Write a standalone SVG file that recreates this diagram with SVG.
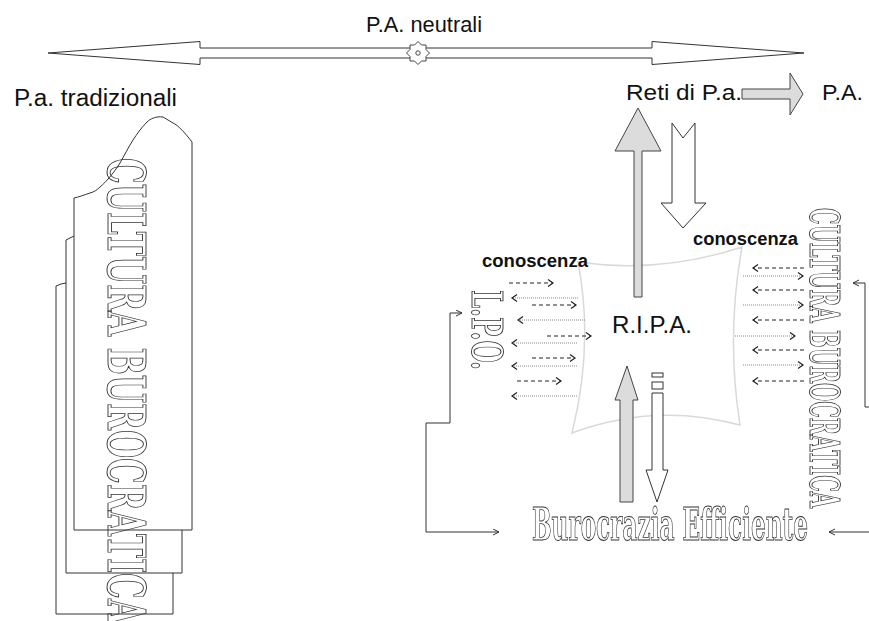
<svg xmlns="http://www.w3.org/2000/svg" width="869" height="621" viewBox="0 0 869 621">
  <style>
    .lbl { font-family: "Liberation Sans", Arial, sans-serif; fill: #111; }
    .bold { font-family: "Liberation Sans", Arial, sans-serif; font-weight: bold; fill: #111; }
    .ol { font-family: "DejaVu Serif Condensed", "DejaVu Serif", "Liberation Serif", serif; font-weight: bold; font-stretch: condensed; fill: none; stroke: #333; stroke-width: 0.9; }
    .frame { fill: none; stroke: #333; stroke-width: 1; }
    .conn { fill: none; stroke: #333; stroke-width: 1; }
    .dash { stroke: #222; stroke-width: 1; stroke-dasharray: 4 3; }
    .dot { stroke: #888; stroke-width: 1; stroke-dasharray: 1 1; }
    .grayarrow { fill: #dcdcdc; stroke: #444; stroke-width: 1; }
    .whitearrow { fill: #fff; stroke: #333; stroke-width: 1; }
  </style>
  <defs>
    <!-- identity pass so outlined lettering is rasterised in greyscale -->
    <filter id="flat" x="0" y="0" width="1" height="1">
      <feOffset dx="0" dy="0"/>
    </filter>
    <marker id="head" markerUnits="userSpaceOnUse" markerWidth="8" markerHeight="8" refX="6" refY="3.5" orient="auto">
      <path d="M0,0.5 L6,3.5 L0,6.5" fill="none" stroke="#333" stroke-width="1"/>
    </marker>
    <marker id="chev" markerUnits="userSpaceOnUse" markerWidth="9" markerHeight="10" refX="6" refY="4" orient="auto">
      <path d="M1,0.5 L6,4 L1,7.5" fill="none" stroke="#222" stroke-width="1.2"/>
    </marker>
  </defs>

  <!-- neutral axis: double-headed arrow with compass emblem -->
  <g id="neutral-axis">
    <text class="lbl" x="366" y="32" font-size="22" textLength="116" lengthAdjust="spacingAndGlyphs">P.A. neutrali</text>
    <path class="whitearrow" d="M48,53 L200,41.5 L200,48 L652,48 L652,41.5 L804,53 L652,64.5 L652,58 L200,58 L200,64.5 Z"/>
    <polygon fill="#fff" stroke="#444" stroke-width="1" points="418,41.5 421.5,45 426,45 426,49.5 429.5,53 426,56.5 426,61 421.5,61 418,64.5 414.5,61 410,61 410,56.5 406.5,53 410,49.5 410,45 414.5,45"/>
    <circle cx="418" cy="53" r="2.2" fill="#fff" stroke="#444" stroke-width="1"/>
  </g>

  <!-- traditional administrations column -->
  <g id="pa-tradizionali">
    <text class="lbl" x="14" y="106" font-size="23" textLength="163" lengthAdjust="spacingAndGlyphs">P.a. tradizionali</text>
    <path class="frame" d="M66,283 L61,284 L56,286 L56,614 L173,614 L173,573"/>
    <path class="frame" d="M74,236 L70,238 L66,240 L66,573 L182,573 L182,530"/>
    <path class="frame" d="M74,198 L74,530 L192,530 L192,142 C186,134 178,125 173,123 L163,117 C156,116 150,119 147,122 C141,128 137,134 133,140 C128,148 124,156 120,163 C113,174 106,182 100,187 C97,190 94,192 90,193 C84,195 79,197 74,198 Z"/>
    <g filter="url(#flat)">
      <text class="ol" transform="translate(108,158) rotate(90)" font-size="53" textLength="466" lengthAdjust="spacingAndGlyphs">CULTURA BUROCRATICA</text>
    </g>
  </g>

  <!-- network of administrations -->
  <g id="reti">
    <text class="lbl" x="626" y="100" font-size="22" textLength="116" lengthAdjust="spacingAndGlyphs">Reti di P.a.</text>
    <path class="grayarrow" d="M742,89 L790,89 L790,73 L803,94 L790,115 L790,99 L742,99 Z"/>
    <text class="lbl" x="822" y="100" font-size="22" textLength="41" lengthAdjust="spacingAndGlyphs">P.A.</text>
  </g>

  <!-- R.I.P.A. hub -->
  <g id="ripa">
    <path d="M578,262 Q660,274 742,247 Q726,336 740,425 Q655,402 572,433 Q594,345 578,262 Z" fill="none" stroke="#d9d9d9" stroke-width="1.5"/>
    <text class="lbl" x="612" y="333" font-size="23" textLength="80" lengthAdjust="spacingAndGlyphs">R.I.P.A.</text>
  </g>

  <!-- L.P.O. -->
  <g id="lpo" filter="url(#flat)">
    <text class="ol" transform="translate(472,290) rotate(90)" font-size="42" textLength="80" lengthAdjust="spacingAndGlyphs">L.P.O.</text>
  </g>

  <!-- bureaucratic culture, right side -->
  <g id="cultura-destra" filter="url(#flat)">
    <text class="ol" transform="translate(810,208) rotate(90)" font-size="41" textLength="300" lengthAdjust="spacingAndGlyphs">CULTURA BUROCRATICA</text>
  </g>

  <!-- efficient bureaucracy -->
  <g id="burocrazia-efficiente" filter="url(#flat)">
    <text class="ol" x="532" y="540" font-size="44" textLength="276" lengthAdjust="spacingAndGlyphs">Burocrazia Efficiente</text>
  </g>

  <!-- knowledge labels -->
  <g id="conoscenza-sx">
    <text class="bold" x="482" y="267" font-size="18" textLength="106" lengthAdjust="spacingAndGlyphs">conoscenza</text>
  </g>
  <g id="conoscenza-dx">
    <text class="bold" x="693" y="245" font-size="18" textLength="105" lengthAdjust="spacingAndGlyphs">conoscenza</text>
  </g>

  <g id="connectors">
    <!-- block arrows between hub, networks and bureaucracy -->
    <path class="grayarrow" d="M638,108 L661,151 L642,151 L642,297 L634,297 L634,151 L615,151 Z"/>
    <path class="whitearrow" d="M672,123 L683,138 L695,123 L695,203 L706,203 L683,228 L661,203 L672,203 Z"/>
    <path class="grayarrow" d="M627,366 L638,400 L633,400 L633,502 L620,502 L620,400 L615,400 Z"/>
    <rect class="whitearrow" x="652" y="373" width="11" height="4"/>
    <rect class="whitearrow" x="652" y="382" width="11" height="7"/>
    <path class="whitearrow" d="M652,393 L663,393 L663,470 L668,470 L657,502 L646,470 L652,470 Z"/>

    <!-- feedback brackets -->
    <path class="conn" marker-end="url(#head)" d="M426,423 L450,423 L450,313 L462,313"/>
    <path class="conn" marker-end="url(#head)" d="M426,423 L426,532 L499,532"/>
    <path class="conn" marker-end="url(#head)" d="M869,407 L865,407 L865,283 L853,283"/>
    <path class="conn" marker-end="url(#head)" d="M869,532 L829,532"/>

    <!-- knowledge exchange, left -->
    <line class="dash" marker-end="url(#chev)" x1="509" y1="283" x2="553" y2="283"/>
    <line class="dot" marker-end="url(#chev)" x1="578" y1="298" x2="512" y2="298"/>
    <line class="dash" marker-end="url(#chev)" x1="532" y1="305" x2="576" y2="305"/>
    <line class="dot" marker-end="url(#chev)" x1="585" y1="320" x2="518" y2="320"/>
    <line class="dash" marker-end="url(#chev)" x1="547" y1="336" x2="591" y2="336"/>
    <line class="dot" marker-end="url(#chev)" x1="577" y1="343" x2="512" y2="343"/>
    <line class="dash" marker-end="url(#chev)" x1="532" y1="358" x2="575" y2="358"/>
    <line class="dot" marker-end="url(#chev)" x1="577" y1="366" x2="512" y2="366"/>
    <line class="dash" marker-end="url(#chev)" x1="517" y1="381" x2="561" y2="381"/>
    <line class="dot" marker-end="url(#chev)" x1="577" y1="396" x2="512" y2="396"/>

    <!-- knowledge exchange, right -->
    <line class="dash" marker-end="url(#chev)" x1="804" y1="268" x2="753" y2="268"/>
    <line class="dot" marker-end="url(#chev)" x1="743" y1="276" x2="803" y2="276"/>
    <line class="dash" marker-end="url(#chev)" x1="804" y1="290" x2="753" y2="290"/>
    <line class="dot" marker-end="url(#chev)" x1="743" y1="305" x2="803" y2="305"/>
    <line class="dash" marker-end="url(#chev)" x1="804" y1="320" x2="753" y2="320"/>
    <line class="dot" marker-end="url(#chev)" x1="735" y1="336" x2="795" y2="336"/>
    <line class="dash" marker-end="url(#chev)" x1="804" y1="350" x2="753" y2="350"/>
    <line class="dot" marker-end="url(#chev)" x1="743" y1="365" x2="803" y2="365"/>
    <line class="dash" marker-end="url(#chev)" x1="804" y1="381" x2="753" y2="381"/>
  </g>
</svg>
